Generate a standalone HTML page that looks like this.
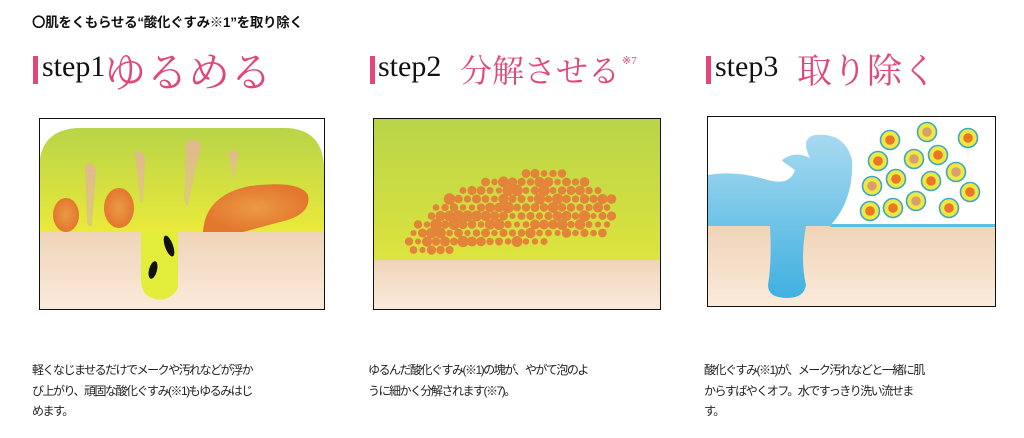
<!DOCTYPE html>
<html><head><meta charset="utf-8"><style>
body{margin:0;width:1024px;height:438px;background:#fff;position:relative;overflow:hidden;font-family:"Liberation Sans","Noto Sans CJK JP",sans-serif;color:#222}
.a{position:absolute;white-space:nowrap}
.h{left:32px;top:11px;font-size:13.5px;font-weight:bold;color:#111;letter-spacing:-0.3px}
.bar{position:absolute;width:5px;height:28px;background:#e0487c}
.st{font-family:"Liberation Serif","Noto Serif CJK SC",serif;font-size:30px;color:#111}
.jp{font-family:"Noto Serif CJK SC","Noto Sans CJK JP",serif;color:#e0487c}
.tx{font-size:12px;line-height:20.5px;color:#222;letter-spacing:-1.5px}
svg{position:absolute;left:0;top:0}
</style></head><body>
<div class="a h">〇肌をくもらせる“酸化ぐすみ※1”を取り除く</div>
<div class="bar" style="left:33px;top:56px"></div>
<div class="a st" style="left:42px;top:50px">step1</div>
<div class="a jp" style="left:104px;top:40px;font-size:42px">ゆるめる</div>
<div class="bar" style="left:370px;top:56px"></div>
<div class="a st" style="left:378px;top:50px">step2</div>
<div class="a jp" style="left:460px;top:46px;font-size:32px">分解させる</div>
<div class="a" style="left:622px;top:54px;font-size:11px;color:#e0487c;font-family:'Liberation Serif',serif">※7</div>
<div class="bar" style="left:706px;top:56px"></div>
<div class="a st" style="left:715px;top:50px">step3</div>
<div class="a jp" style="left:797px;top:44px;font-size:35px">取り除く</div>

<svg width="1024" height="438">
<defs>
<linearGradient id="g" x1="0" y1="0" x2="0" y2="1"><stop offset="0" stop-color="#b8d448"/><stop offset="1" stop-color="#eaea3a"/></linearGradient>
<linearGradient id="sk" x1="0" y1="0" x2="0" y2="1"><stop offset="0" stop-color="#f0d4b8"/><stop offset="1" stop-color="#fbeadb"/></linearGradient>
<linearGradient id="bl" x1="0" y1="0" x2="0" y2="1"><stop offset="0" stop-color="#a8daf0"/><stop offset="1" stop-color="#40b0e0"/></linearGradient>
<radialGradient id="or"><stop offset="0" stop-color="#eb9a44"/><stop offset="1" stop-color="#e3772e"/></radialGradient>
<linearGradient id="tn" x1="0" y1="0" x2="0" y2="1"><stop offset="0" stop-color="#e2b890"/><stop offset="1" stop-color="#dccd70"/></linearGradient>
</defs>
<rect x="39.5" y="118.5" width="285" height="191" fill="#fff"/>
<path d="M39 232 V170 Q39 128 81 128 H284 Q324 128 324 170 V232Z" fill="url(#g)"/>
<rect x="40" y="232" width="284" height="77" fill="url(#sk)"/>
<ellipse cx="66" cy="215" rx="13" ry="17" fill="url(#or)"/>
<ellipse cx="119" cy="208" rx="15" ry="20" fill="url(#or)"/>
<path d="M203 232 Q205 195 250 186 Q300 180 308 195 Q312 215 280 222 L243 232Z" fill="url(#or)"/>
<path d="M85 165 Q92 160 96 170 L92 225 Q88 228 87 222Z" fill="url(#tn)"/>
<path d="M135 152 Q143 150 145 158 L143 200 L140 203Z" fill="url(#tn)"/>
<path d="M186 143 Q196 136 201 145 L188 205 Q184 205 184 195Z" fill="url(#tn)"/>
<path d="M229 152 Q236 148 238 155 L234 178 L232 178Z" fill="url(#tn)"/>
<path d="M141 232 H178 V288 Q170 302 155 299 Q141 296 141 280Z" fill="#e3ee3a"/>
<ellipse cx="169" cy="246" rx="4" ry="11" transform="rotate(-20 169 246)" fill="#111"/>
<ellipse cx="153" cy="270" rx="4" ry="9" transform="rotate(15 153 270)" fill="#111"/>
<rect x="39.5" y="118.5" width="285" height="191" fill="none" stroke="#111" stroke-width="1"/>
<rect x="373.5" y="118.5" width="287" height="191" fill="url(#g)"/>
<rect x="374" y="260" width="286" height="49" fill="url(#sk)"/>
<g id="dots" fill="#e3843a"></g>
<rect x="373.5" y="118.5" width="287" height="191" fill="none" stroke="#111"/>
<rect x="707.5" y="116.5" width="288" height="190" fill="#fff"/>
<rect x="708" y="226" width="287" height="80" fill="url(#sk)"/>
<rect x="830" y="224" width="165" height="3" fill="#5ac0e0"/>
<path d="M708 175 Q735 170 768 180 Q790 186 795 170 Q780 160 782 160 Q795 150 810 158 Q800 138 815 135 Q845 132 852 160 Q854 200 830 226 H806 Q800 260 806 285 Q804 298 787 298 Q768 298 768 285 Q772 260 770 226 H708Z" fill="url(#bl)"/>
<g id="cir"></g>
<rect x="707.5" y="116.5" width="288" height="190" fill="none" stroke="#111"/>
</svg>

<div class="a tx" style="left:32px;top:360px">軽くなじませるだけでメークや汚れなどが浮か<br>び上がり、頑固な酸化ぐすみ(※1)もゆるみはじ<br>めます。</div>
<div class="a tx" style="left:368px;top:360px">ゆるんだ酸化ぐすみ(※1)の塊が、やがて泡のよ<br>うに細かく分解されます(※7)。</div>
<div class="a tx" style="left:704px;top:360px">酸化ぐすみ(※1)が、メーク汚れなどと一緒に肌<br>からすばやくオフ。水ですっきり洗い流せま<br>す。</div>
<script>
var ns="http://www.w3.org/2000/svg",d=document.getElementById("dots");
var s=7,cx=512,cy=230,a=-13*Math.PI/180;
for(var y=165;y<262;y+=8.5){for(var x=400;x<630;x+=9){var ox=x+(Math.round(y/8.5)%2)*4.5,dx=ox-cx,dy=y-cy;
var u=(dx*Math.cos(a)+dy*Math.sin(a))/106,v=(-dx*Math.sin(a)+dy*Math.cos(a))/54;
if(u*u+v*v<1&&y<254-(ox-410)*0.09){s=(s*9301+49297)%233280;var r=3+(s/233280)*2.8;
var c=document.createElementNS(ns,"circle");c.setAttribute("cx",ox);c.setAttribute("cy",y);c.setAttribute("r",r);d.appendChild(c);}}}
var P=[[890,140,0],[927,132,1],[968,138,0],[878,161,0],[914,159,1],[938,155,0],[956,172,1],[872,186,1],[896,179,0],[931,181,0],[970,192,0],[870,211,0],[893,208,0],[916,201,1],[949,208,0]],g=document.getElementById("cir");
P.forEach(function(p){var o=document.createElementNS(ns,"circle");o.setAttribute("cx",p[0]);o.setAttribute("cy",p[1]);o.setAttribute("r",9.5);o.setAttribute("fill","#f0e840");o.setAttribute("stroke","#3aa8c8");o.setAttribute("stroke-width","1.6");g.appendChild(o);
var i=document.createElementNS(ns,"circle");i.setAttribute("cx",p[0]);i.setAttribute("cy",p[1]);i.setAttribute("r",4.8);i.setAttribute("fill",p[2]?"#d8a070":"#e87828");g.appendChild(i);});
</script>
</body></html>
